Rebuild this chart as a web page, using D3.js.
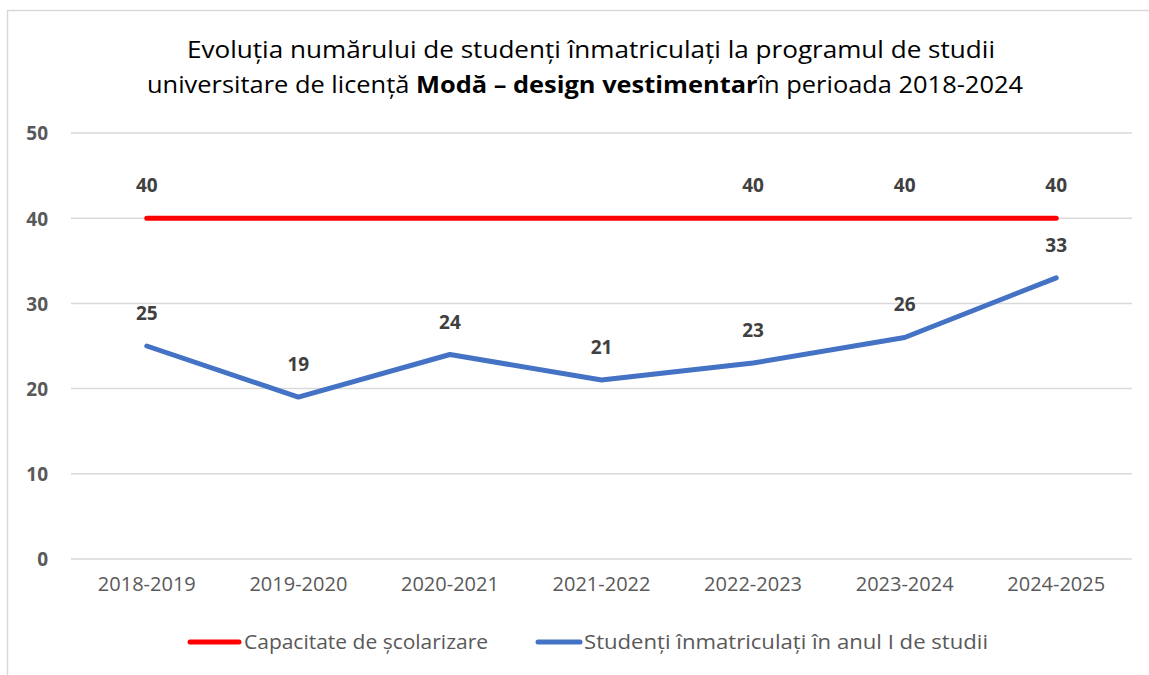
<!DOCTYPE html>
<html><head><meta charset="utf-8">
<script src="https://cdn.jsdelivr.net/npm/d3@7"></script>
<style>body{margin:0;background:#fff}svg{display:block}text{font-family:"Open Sans",sans-serif}</style>
</head><body><svg id="c" width="1149" height="675"></svg>
<script>
const categories = ["2018-2019","2019-2020","2020-2021","2021-2022","2022-2023","2023-2024","2024-2025"];
const capacity = [40,40,40,40,40,40,40];
const capacityLabelShown = [true,false,false,false,true,true,true];
const students = [25,19,24,21,23,26,33];
const yTicks = [0,10,20,30,40,50];
const seriesNames = ["Capacitate de școlarizare","Studenți înmatriculați în anul I de studii"];
const colors = ["#ff0000","#4472c4"];

const FONT = "'Open Sans',sans-serif";
const svg = d3.select("#c");
// chart frame
svg.append("path").attr("d","M7.5,675 V10.5 H1149").attr("fill","none").attr("stroke","#d9d9d9").attr("stroke-width",1.5);

const x = d3.scaleBand().domain(categories).range([71,1132]);
const y = d3.scaleLinear().domain([0,50]).range([559,133]);

// gridlines
svg.append("g").selectAll("line").data(yTicks).join("line")
  .attr("x1",71).attr("x2",1132).attr("y1",d=>y(d)).attr("y2",d=>y(d))
  .attr("stroke","#d9d9d9").attr("stroke-width",1.5);

// y axis labels
const yAxis = svg.append("g").attr("transform","translate(48,0)")
  .call(d3.axisLeft(y).tickValues(yTicks).tickSize(0).tickPadding(0));
yAxis.select(".domain").remove();
yAxis.selectAll("text").attr("font-size",19).attr("font-weight","bold").attr("fill","#595959")
  .attr("font-family",FONT).attr("dy","0.36em");

// x axis labels
const xAxis = svg.append("g").attr("transform","translate(0,577)")
  .call(d3.axisBottom(x).tickSize(0).tickPadding(0));
xAxis.select(".domain").remove();
xAxis.selectAll("text").attr("font-size",20).attr("fill","#595959").attr("font-family",FONT);

const cx = d => x(d) + x.bandwidth()/2;
const line = d3.line().x((d,i)=>cx(categories[i])).y(d=>y(d));

svg.append("path").datum(capacity).attr("d",line).attr("fill","none")
  .attr("stroke",colors[0]).attr("stroke-width",5).attr("stroke-linecap","round");
svg.append("path").datum(students).attr("d",line).attr("fill","none")
  .attr("stroke",colors[1]).attr("stroke-width",5).attr("stroke-linecap","round").attr("stroke-linejoin","round");

// data labels
svg.append("g").selectAll("text").data(capacity.map((v,i)=>({v,i})).filter(d=>capacityLabelShown[d.i])).join("text")
  .attr("x",d=>cx(categories[d.i])).attr("y",d=>y(d.v)-26)
  .attr("text-anchor","middle").attr("font-size",19).attr("font-weight","bold").attr("fill","#404040")
  .text(d=>d.v);
svg.append("g").selectAll("text").data(students).join("text")
  .attr("x",(d,i)=>cx(categories[i])).attr("y",d=>y(d)-26)
  .attr("text-anchor","middle").attr("font-size",19).attr("font-weight","bold").attr("fill","#404040")
  .text(d=>d);

// title
svg.append("text").attr("x",591).attr("y",58).attr("text-anchor","middle")
  .attr("font-size",23).attr("fill","#000").attr("textLength",808).attr("lengthAdjust","spacingAndGlyphs")
  .text("Evoluția numărului de studenți înmatriculați la programul de studii");
const t2 = svg.append("text").attr("x",585).attr("y",93).attr("text-anchor","middle")
  .attr("font-size",23).attr("fill","#000").attr("textLength",876).attr("lengthAdjust","spacingAndGlyphs");
t2.append("tspan").text("universitare de licență ");
t2.append("tspan").attr("font-weight","bold").text("Modă – design vestimentar");
t2.append("tspan").text("în perioada 2018-2024");

// legend
const leg = [{x1:190,x2:239,tx:244,tl:244},{x1:538,x2:580,tx:584,tl:404}];
leg.forEach((l,i)=>{
  svg.append("line").attr("x1",l.x1).attr("x2",l.x2).attr("y1",642).attr("y2",642)
    .attr("stroke",colors[i]).attr("stroke-width",5).attr("stroke-linecap","round");
  svg.append("text").attr("x",l.tx).attr("y",649).attr("font-size",20).attr("fill","#595959")
    .attr("textLength",l.tl).attr("lengthAdjust","spacingAndGlyphs").text(seriesNames[i]);
});
</script></body></html>
